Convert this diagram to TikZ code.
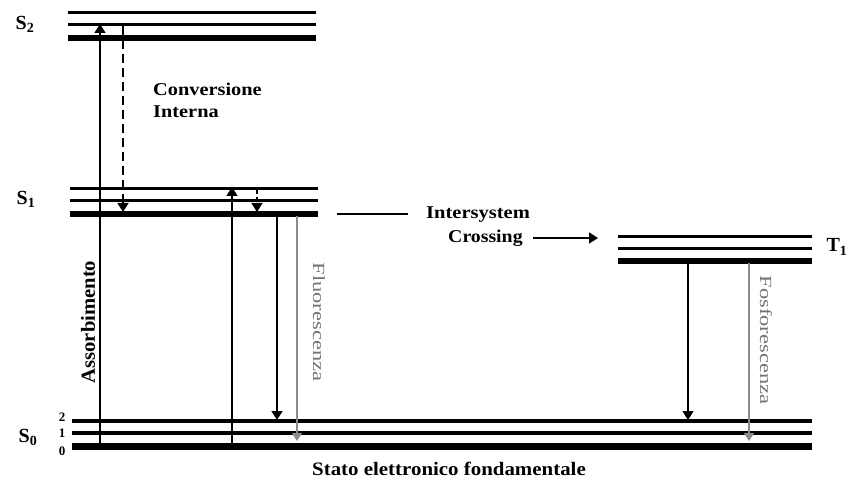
\documentclass[tikz,border=0pt]{standalone}
\usepackage{fontspec}
\usepackage{graphicx}
\setmainfont{Liberation Serif}
\usetikzlibrary{arrows.meta}
\begin{document}
\begin{tikzpicture}[x=1pt,y=-1pt,
  lvl/.style={line width=3pt},
  lvlb/.style={line width=6pt},
  tr/.style={line width=1.4pt,-{Triangle[width=11pt,length=9pt]}},
  grtr/.style={line width=1.1pt,draw=black!45,-{Triangle[width=10pt,length=8pt]}},
  lab/.style={font=\bfseries\fontsize{18}{22}\selectfont,inner sep=0pt},
  slab/.style={font=\bfseries\fontsize{20}{22}\selectfont,inner sep=0pt},
  num/.style={font=\bfseries\fontsize{13}{14}\selectfont,inner sep=0pt},
  rot/.style={font=\fontsize{17}{20}\selectfont,inner sep=0pt}
  ]
\useasboundingbox[fill=white] (0,0) rectangle (851,481);
% S2 levels
\draw[lvl] (68,13) -- (316,13);
\draw[lvl] (68,25) -- (316,25);
\draw[lvlb] (68,38) -- (316,38);
% S1 levels
\draw[lvl] (70,189) -- (318,189);
\draw[lvl] (70,201) -- (318,201);
\draw[lvlb] (70,214) -- (318,214);
% T1 levels
\draw[lvl] (618,236) -- (812,236);
\draw[lvl] (618,248) -- (812,248);
\draw[lvlb] (618,261) -- (812,261);
% S0 levels
\draw[line width=3.5pt] (72,421) -- (812,421);
\draw[line width=3.5pt] (72,433) -- (812,433);
\draw[line width=7pt] (72,446) -- (812,446);

% labels
\node[slab] (s2) at (25,24) {S\textsubscript{2}};
\node[slab] (s1) at (26,199) {S\textsubscript{1}};
\node[slab] (s0) at (28,437) {S\textsubscript{0}};
\node[slab] (t1) at (837,247) {T\textsubscript{1}};
\node[num] (n2) at (62,417) {2};
\node[num] (n1) at (62,433) {1};
\node[num] (n0) at (62,451) {0};
\node[lab,align=left,anchor=west] (ci) at (153,100) {\scalebox{1.13}[1]{Conversione}\\\scalebox{1.13}[1]{Interna}};
\node[lab,anchor=west] (isc1) at (426,215) {\scalebox{1.14}[1]{Intersystem}};
\node[lab,anchor=west] (isc2) at (448,238) {\scalebox{1.1}[1]{Crossing}};
\node[lab,font=\bfseries\fontsize{19}{21}\selectfont] (sef) at (449,469) {\scalebox{1.1}[1]{Stato elettronico fondamentale}};
\node[rot,font=\bfseries\fontsize{20}{22}\selectfont,rotate=90] (ass) at (88,322) {\scalebox{1.03}[1]{Assorbimento}};
\node[rot,text=black!55,rotate=-90] (flu) at (319,322) {\scalebox{1.32}[1]{Fluorescenza}};
\node[rot,text=black!55,rotate=-90] (fos) at (766,340) {\scalebox{1.32}[1]{Fosforescenza}};

% coordinates
\coordinate (a0) at (100,449);
\coordinate (a1) at (100,24);
\coordinate (d0) at (123,26);
\coordinate (d1) at (123,212);
\coordinate (b0) at (232,449);
\coordinate (b1) at (232,187);
\coordinate (e0) at (257,190);
\coordinate (e1) at (257,212);
\coordinate (f0) at (277,216);
\coordinate (f1) at (277,420);
\coordinate (g0) at (297,216);
\coordinate (g1) at (297,441);
\coordinate (p0) at (688,263);
\coordinate (p1) at (688,420);
\coordinate (q0) at (749,263);
\coordinate (q1) at (749,441);
\coordinate (l0) at (337,214);
\coordinate (l1) at (408,214);
\coordinate (r0) at (533,238);
\coordinate (r1) at (598,238);

% transitions
\draw[tr] (a0) -- (a1);
\draw[tr,dash pattern=on 9pt off 5pt] (d0) -- (d1);
\draw[tr] (b0) -- (b1);
\draw[tr,dash pattern=on 4pt off 3pt] (e0) -- (e1);
\draw[tr] (f0) -- (f1);
\draw[grtr] (g0) -- (g1);
\draw[tr] (p0) -- (p1);
\draw[grtr] (q0) -- (q1);
\draw[line width=1.5pt] (l0) -- (l1);
\draw[tr,line width=1.6pt] (r0) -- (r1);
\end{tikzpicture}
\end{document}
